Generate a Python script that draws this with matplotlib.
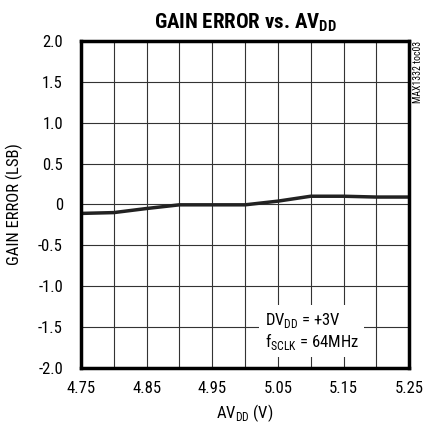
import matplotlib.pyplot as plt
import numpy as np
from matplotlib import font_manager

# prefer a narrow face if one is available
names = {f.name for f in font_manager.fontManager.ttflist}
narrow = [n for n in ['Liberation Sans Narrow', 'DejaVu Sans Condensed', 'Roboto Condensed'] if n in names]
plt.rcParams['font.family'] = narrow + ['Liberation Sans', 'DejaVu Sans']
plt.rcParams['font.stretch'] = 'condensed'

# gain error vs analog supply voltage
avdd = [4.75, 4.80, 4.85, 4.90, 4.95, 5.00, 5.05, 5.10, 5.15, 5.20, 5.25]
gain_err = [-0.11, -0.10, -0.05, -0.005, -0.005, -0.005, 0.04, 0.10, 0.10, 0.09, 0.09]
xticks = [4.75, 4.85, 4.95, 5.05, 5.15, 5.25]
yticks = [-2.0, -1.5, -1.0, -0.5, 0, 0.5, 1.0, 1.5, 2.0]
ylabels = ['-2.0', '-1.5', '-1.0', '-0.5', '0', '0.5', '1.0', '1.5', '2.0']

fig = plt.figure(figsize=(4.24, 4.34), dpi=100)
ax = fig.add_axes([0.191, 0.152, 0.774, 0.754])

ax.set_xlim(4.75, 5.25)
ax.set_ylim(-2.0, 2.0)
ax.set_xticks(np.arange(4.75, 5.2501, 0.05), minor=True)
ax.set_xticks(xticks)
ax.set_xticklabels([f'{v:.2f}' for v in xticks])
ax.set_yticks(yticks)
ax.set_yticklabels(ylabels)
ax.grid(True, which='both', color='#333333', lw=0.8)
ax.tick_params(which='both', length=0, labelsize=12)
ax.tick_params(axis='x', pad=9)
ax.tick_params(axis='y', pad=13)
for s in ax.spines.values():
    s.set_linewidth(2.5)

ax.plot(avdd, gain_err, color='#222222', lw=2.5, solid_capstyle='butt')

ax.text(5.03, -1.55, 'DV$_{\\mathregular{DD}}$ = +3V\nf$_{\\mathregular{SCLK}}$ = 64MHz',
        fontsize=12, ha='left', va='center', linespacing=1.05,
        bbox=dict(facecolor='white', edgecolor='none', pad=4))

ax.set_xlabel('AV$_{\\mathregular{DD}}$ (V)', fontsize=12, labelpad=5)
ax.set_ylabel('GAIN ERROR (LSB)', fontsize=12, labelpad=11)
ax.set_title('GAIN ERROR vs. AV$_{\\mathregular{DD}}$', fontsize=15, fontweight='bold', pad=9)

fig.text(0.985, 0.905, 'MAX1332 toc03', rotation=90, fontsize=7, ha='center', va='top')

fig.savefig('out.png', dpi=100)
